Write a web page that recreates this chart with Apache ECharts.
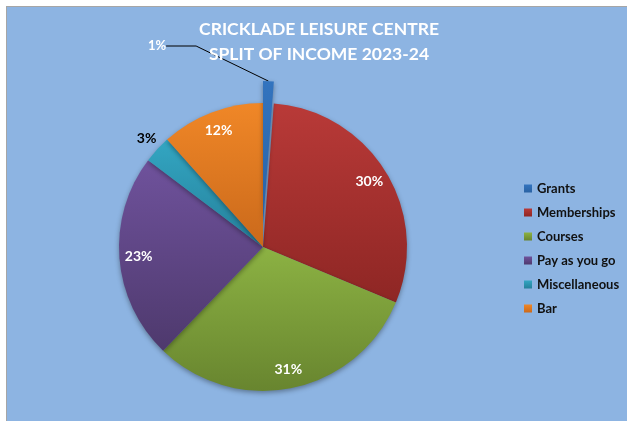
<!DOCTYPE html>
<html><head><meta charset="utf-8">
<script src="https://cdn.jsdelivr.net/npm/echarts@6/dist/echarts.min.js"></script>
<style>
html,body{margin:0;padding:0;background:#fff;width:627px;height:421px;overflow:hidden}
#frame{position:absolute;left:6px;top:6px;width:620px;height:414px;border-top:1px solid #a6a6a6;border-left:1px solid #a6a6a6;background:#8db4e2}
#chart{width:620px;height:414px}
</style></head><body><div id="frame"><div id="chart"></div></div>
<script>
const titleLines = ['CRICKLADE LEISURE CENTRE', 'SPLIT OF INCOME 2023-24'];
const categories = ['Grants', 'Memberships', 'Courses', 'Pay as you go', 'Miscellaneous', 'Bar'];
const values = [1.2, 30.1, 30.9, 23.1, 3.1, 11.6];
const topColors = ['#3374bf', '#b93a38', '#8cb243', '#6f529c', '#33a6c2', '#f08727'];
const bottomColors = ['#2a62a3', '#8e2624', '#68852f', '#4e396d', '#25809b', '#ca691b'];

const FONT = 'Lato';
const CX = 256, CY = 240, R = 144, EXPLODE = 22;
const explodedIdx = 0;      // Grants slice pulled out
const outsideIdx = 4;       // Miscellaneous label outside (dark)
const insideIdx = [1, 2, 3, 5];

function grad(i) {
  return new echarts.graphic.LinearGradient(0, 0, 0, 1, [
    { offset: 0, color: topColors[i] }, { offset: 1, color: bottomColors[i] }
  ]);
}
const fmt = p => Math.round(p.percent) + '%';
const clear = 'rgba(0,0,0,0)';
const shadow = { shadowBlur: 5, shadowColor: 'rgba(0,0,0,0.35)', shadowOffsetY: 2 };

// main pie: all slices except the exploded one
const mainData = categories.map((name, i) => ({
  name, value: values[i],
  itemStyle: i === explodedIdx ? { color: clear, shadowBlur: 0, shadowColor: clear } : { color: grad(i) },
  label: i === outsideIdx ? { show: true, color: '#000' } : { show: false },
  labelLine: i === outsideIdx ? { show: false, length: 5, length2: 0 } : { show: false }
}));
// exploded slice, drawn by a pie shifted out along the slice direction
const explodeData = categories.map((name, i) => ({
  name, value: values[i],
  itemStyle: i === explodedIdx ? { color: grad(i) } : { color: clear, shadowBlur: 0, shadowColor: clear },
  label: { show: i === explodedIdx },
  labelLine: i === explodedIdx ? { show: true, lineStyle: { color: '#000', width: 1 } } : { show: false }
}));
const overlayData = categories.map((name, i) => ({
  name, value: values[i],
  itemStyle: { color: clear },
  label: { show: insideIdx.includes(i) }
}));

const common = { startAngle: 90, clockwise: true, percentPrecision: 1, avoidLabelOverlap: false, emphasis: { disabled: true } };

const chart = echarts.init(document.getElementById('chart'));
chart.setOption({
  backgroundColor: 'transparent',
  animation: false,
  title: {
    text: titleLines.join('\n'),
    left: 312, top: 10, textAlign: 'center', padding: 0,
    textStyle: { color: '#fff', fontFamily: FONT, fontWeight: 'bold', fontSize: 17.5, lineHeight: 25 }
  },
  legend: {
    orient: 'vertical', left: 512, top: 170,
    data: categories.map((n, i) => ({ name: n, itemStyle: { color: grad(i) } })),
    icon: 'rect', itemWidth: 8, itemHeight: 8, itemGap: 11, itemTextGap: 5,
    textStyle: { color: '#111', fontFamily: FONT, fontWeight: 'bold', fontSize: 13 }
  },
  series: [Object.assign({
    type: 'pie', center: [CX, CY], radius: [0, R],
    itemStyle: shadow,
    label: { position: 'outside', formatter: fmt, fontFamily: FONT, fontWeight: 'bold', fontSize: 14 },
    labelLayout: p => (p.dataIndex === outsideIdx ? { dx: 8, dy: -8 } : null),
    data: mainData
  }, common), Object.assign({
    type: 'pie', center: [CX, CY - EXPLODE], radius: [0, R],
    itemStyle: shadow, legendHoverLink: false,
    label: { position: 'outside', formatter: fmt, color: '#fff', fontFamily: FONT, fontWeight: 'bold', fontSize: 13 },
    labelLayout: p => (p.dataIndex === explodedIdx
      ? { x: p.rect.x - 106, y: p.rect.y - 35, align: 'center', verticalAlign: 'middle' } : null),
    data: explodeData
  }, common), Object.assign({
    type: 'pie', center: [CX, CY], radius: [R * 0.69, R],
    silent: true, legendHoverLink: false,
    label: { position: 'inside', formatter: fmt, color: '#fff', fontFamily: FONT, fontWeight: 'bold', fontSize: 14 },
    labelLine: { show: false },
    data: overlayData
  }, common)]
});
</script></body></html>
